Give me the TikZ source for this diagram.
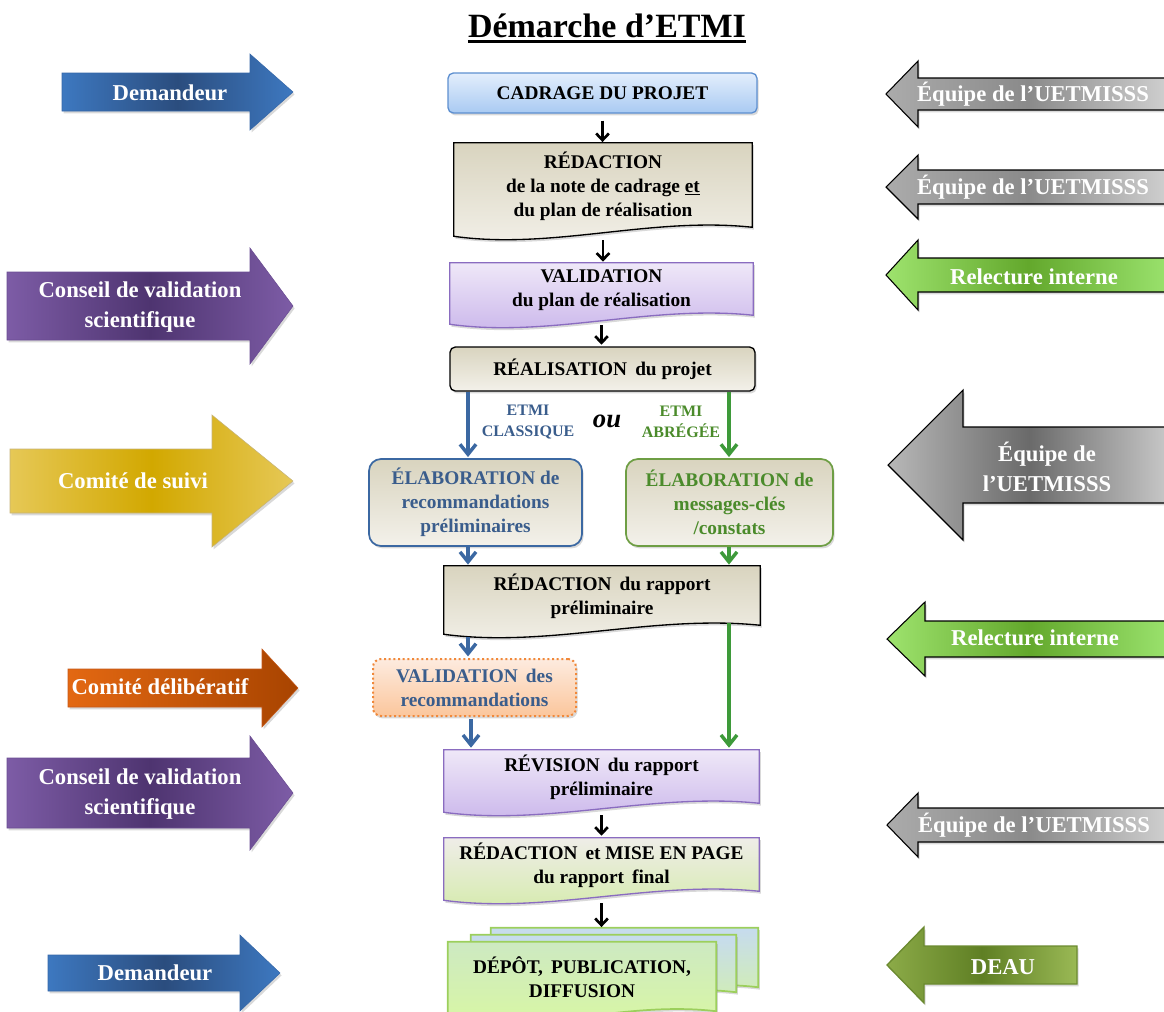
\documentclass[tikz,border=0pt]{standalone}
\usepackage{fontspec}
\setmainfont{Liberation Serif}
\usetikzlibrary{arrows.meta,shadows,calc,backgrounds}

\definecolor{cadT}{HTML}{E3EEFC}
\definecolor{cadB}{HTML}{A9CAF2}
\definecolor{cadD}{HTML}{5D8FD0}
\definecolor{begT}{HTML}{D9D4BF}
\definecolor{begB}{HTML}{F3F1EA}
\definecolor{purT}{HTML}{EFE8F8}
\definecolor{purB}{HTML}{C8B3EA}
\definecolor{purD}{HTML}{8A6CC0}
\definecolor{finT}{HTML}{EFEDE8}
\definecolor{finB}{HTML}{D4EBAA}
\definecolor{depT}{HTML}{C6DBEF}
\definecolor{depB}{HTML}{D4F2A6}
\definecolor{depF}{HTML}{CDE9C2}
\definecolor{depG}{HTML}{DAF8A0}
\definecolor{depD}{HTML}{9CCF5C}
\definecolor{bluA}{HTML}{3B68A2}
\definecolor{bluT}{HTML}{3A5D8C}
\definecolor{grnA}{HTML}{3E9A3A}
\definecolor{grnT}{HTML}{4B8B2B}
\definecolor{grnD}{HTML}{6E9E44}
\definecolor{orgD}{HTML}{F0883A}
\definecolor{orgT}{HTML}{FDEBDF}
\definecolor{orgB}{HTML}{FBC69C}
\definecolor{demE}{HTML}{3D78C0}
\definecolor{demM}{HTML}{2B4D7E}
\definecolor{demD}{HTML}{3567A8}
\definecolor{conE}{HTML}{7D5CA6}
\definecolor{conM}{HTML}{4E3470}
\definecolor{conD}{HTML}{6A4C92}
\definecolor{suiE}{HTML}{E6C856}
\definecolor{suiM}{HTML}{D2A800}
\definecolor{suiD}{HTML}{C5B37A}
\definecolor{delL}{HTML}{E36812}
\definecolor{delR}{HTML}{A84400}
\definecolor{delD}{HTML}{C4581A}
\definecolor{gryL}{HTML}{ABABAB}
\definecolor{gryM}{HTML}{8A8A8A}
\definecolor{gryR}{HTML}{D0D0D0}
\definecolor{bgyL}{HTML}{B8B8B8}
\definecolor{bgyM}{HTML}{6A6A6A}
\definecolor{bgyR}{HTML}{C9C9C9}
\definecolor{relL}{HTML}{9EE36E}
\definecolor{relM}{HTML}{63A82C}
\definecolor{relR}{HTML}{9BE36E}
\definecolor{deaL}{HTML}{8CAB48}
\definecolor{deaM}{HTML}{5F7F24}
\definecolor{deaR}{HTML}{9AB955}
\definecolor{deaD}{HTML}{6B8A30}

% big block arrow: tail x, head base x, tip x, centre y, body half height, head half height, style
\newcommand\bigarrow[7]{%
  \path[#7] (#1,#4-#5) -- (#2,#4-#5) -- (#2,#4-#6) -- (#3,#4) -- (#2,#4+#6) -- (#2,#4+#5) -- (#1,#4+#5) -- cycle;}
% document shape with a wavy bottom behind a named node
\newcommand\docpath[2]{%
  \path[#2] (#1.north west) -- (#1.north east) -- ($(#1.south east)+(0,-2)$)
    .. controls ($(#1.south west)!0.66!(#1.south east)+(0,-13)$) and ($(#1.south west)!0.33!(#1.south east)+(0,21)$) .. ($(#1.south west)+(0,7)$) -- cycle;}

\begin{document}
\begin{tikzpicture}[x=0.75pt,y=-0.75pt,
  tx/.style={font=\bfseries\fontsize{14.5}{18}\selectfont, align=center, inner sep=0pt},
  lab/.style={font=\bfseries\fontsize{17}{23}\selectfont, align=center, text=white, inner sep=0pt},
  sh/.style={drop shadow={shadow xshift=1.2pt, shadow yshift=-1.8pt, opacity=0.3}},
  blk/.style={-{Straight Barb[length=5pt,width=9.5pt]}, line width=2pt, draw=black},
  blu/.style={-{Straight Barb[length=7.5pt,width=12pt]}, line width=2.6pt, draw=bluA},
  grn/.style={-{Straight Barb[length=7.5pt,width=12pt]}, line width=2.6pt, draw=grnA},
  doc/.style={sh, line width=1pt},
]
\useasboundingbox (0,0) rectangle (1164,1011);

% ---------- title ----------
\node[font=\bfseries\fontsize{25.5}{30}\selectfont, inner sep=0pt, anchor=base] (title) at (607,37) {Démarche d’ETMI};
\draw[line width=2pt] ([yshift=-3.5pt]title.base west) -- ([yshift=-3.5pt]title.base east);

% ---------- central boxes ----------
\node[tx, minimum width=231.75pt, minimum height=30pt, rounded corners=4pt, draw=cadD, line width=1pt,
      top color=cadT, bottom color=cadB, sh] (cad) at (602.5,93) {CADRAGE DU PROJET};
\node[tx, minimum width=223.5pt, minimum height=64.5pt] (red1) at (603,186)
  {RÉDACTION\\de la note de cadrage \underline{et}\\du plan de réalisation};
\node[tx, minimum width=227.25pt, minimum height=40.5pt] (val1) at (601.5,290)
  {VALIDATION\\du plan de réalisation};
\node[tx, minimum width=228.75pt, minimum height=33pt, rounded corners=4pt, draw=black, line width=1pt,
      top color=begT, bottom color=begB, sh] (real) at (602.5,369) {RÉALISATION\, du projet};
\node[tx, text=bluT, minimum width=159.75pt, minimum height=65.25pt, rounded corners=9pt, draw=bluA, line width=1.3pt,
      top color=begT, bottom color=begB, sh] (elab1) at (475.5,502.5)
  {ÉLABORATION de\\recommandations\\préliminaires};
\node[tx, text=grnT, minimum width=155.25pt, minimum height=65.25pt, rounded corners=9pt, draw=grnD, line width=1.3pt,
      top color=begT, bottom color=begB, sh] (elab2) at (729.5,502.5)
  {ÉLABORATION de\\messages-clés\\/constats};
\node[tx, minimum width=237pt, minimum height=45.75pt] (rap) at (602,596.5)
  {RÉDACTION\, du rapport\\préliminaire};
\node[tx, text=bluT, minimum width=152.25pt, minimum height=42.75pt, rounded corners=6pt, draw=orgD, dotted,
      line width=1.5pt, top color=orgT, bottom color=orgB, sh] (val2) at (474.5,687.5)
  {VALIDATION\, des\\recommandations};
\node[tx, minimum width=236.25pt, minimum height=41.25pt] (rev) at (601.5,777.5)
  {RÉVISION\, du rapport\\préliminaire};
\node[tx, minimum width=236.25pt, minimum height=41.25pt] (fin) at (601.5,865.5)
  {RÉDACTION\, et MISE EN PAGE\\du rapport\, final};
\node[minimum width=200.25pt, minimum height=45.75pt, inner sep=0pt] (dep3) at (624.5,958.5) {};
\node[minimum width=198.75pt, minimum height=44.25pt, inner sep=0pt] (dep2) at (603.5,964.5) {};
\node[tx, minimum width=201pt, minimum height=53.25pt] (dep) at (582,977.5)
  {DÉPÔT,\, PUBLICATION,\\DIFFUSION};

% branch labels
\node[font=\bfseries\fontsize{12}{16}\selectfont, text=bluT, align=center] (lcl) at (528,422) {ETMI\\CLASSIQUE};
\node[font=\bfseries\itshape\fontsize{20}{22}\selectfont] (ou) at (607,421) {ou};
\node[font=\bfseries\fontsize{12}{16}\selectfont, text=grnT, align=center] (lab) at (681,422) {ETMI\\ABRÉGÉE};

% ---------- side arrow labels ----------
\node[lab] (l1) at (170,93) {Demandeur};
\node[lab] (l2) at (140,307) {Conseil de validation\\scientifique};
\node[lab] (l3) at (133,481) {Comité de suivi};
\node[lab] (l4) at (160,687) {Comité délibératif};
\node[lab] (l5) at (140,794) {Conseil de validation\\scientifique};
\node[lab] (l6) at (155,973) {Demandeur};

\node[lab] (r1) at (1033,94) {Équipe de l’UETMISSS};
\node[lab] (r2) at (1033,187) {Équipe de l’UETMISSS};
\node[lab] (r3) at (1034,277) {Relecture interne};
\node[lab, font=\bfseries\fontsize{17}{22.5}\selectfont] (r4) at (1047,467) {Équipe de\\l’UETMISSS};
\node[lab] (r5) at (1035,638) {Relecture interne};
\node[lab] (r6) at (1034,825) {Équipe de l’UETMISSS};
\node[lab] (r7) at (1003,967) {DEAU};

% ---------- shapes behind ----------
\begin{scope}[on background layer]
  \docpath{red1}{doc, draw=black, top color=begT, bottom color=begB}
  \docpath{val1}{doc, draw=purD, top color=purT, bottom color=purB}
  \docpath{rap}{doc, draw=black, top color=begT, bottom color=begB}
  \docpath{rev}{doc, draw=purD, top color=purT, bottom color=purB}
  \docpath{fin}{doc, draw=purD, top color=finT, bottom color=finB}
  \docpath{dep3}{doc, draw=depD, line width=1.3pt, top color=depT, bottom color=depB}
  \docpath{dep2}{doc, draw=depD, line width=1.3pt, top color=depT, bottom color=depB}
  \docpath{dep}{doc, draw=depD, line width=1.3pt, top color=depF, bottom color=depG}

  % left arrows (pointing right)
  \bigarrow{62}{250}{293}{92}{19}{38}{sh, draw=demD, left color=demE, right color=demE, middle color=demM}
  \bigarrow{7}{250}{293}{306}{34}{58}{sh, draw=conD, left color=conE, right color=conE, middle color=conM}
  \bigarrow{10}{212}{293}{481}{32}{66}{sh, draw=suiD, left color=suiE, right color=suiE, middle color=suiM}
  \bigarrow{68}{262}{298}{688}{19}{39}{sh, draw=delD, left color=delL, right color=delR}
  \bigarrow{7}{250}{293}{793}{35}{57}{sh, draw=conD, left color=conE, right color=conE, middle color=conM}
  \bigarrow{48}{240}{280}{973}{18}{38}{sh, draw=demD, left color=demE, right color=demE, middle color=demM}

  % right arrows (pointing left)
  \bigarrow{1170}{918}{886}{94}{16}{33}{sh, draw=black, line width=0.8pt, left color=gryL, right color=gryR, middle color=gryM}
  \bigarrow{1170}{918}{886}{187}{17}{32}{sh, draw=black, line width=0.8pt, left color=gryL, right color=gryR, middle color=gryM}
  \bigarrow{1170}{918}{886}{275}{17}{35}{sh, draw=black, line width=0.8pt, left color=relL, right color=relR, middle color=relM}
  \bigarrow{1170}{963}{888}{465}{38}{75}{sh, draw=black, line width=0.8pt, left color=bgyL, right color=bgyR, middle color=bgyM}
  \bigarrow{1170}{925}{887}{639}{18}{37}{sh, draw=black, line width=0.8pt, left color=relL, right color=relR, middle color=relM}
  \bigarrow{1170}{918}{887}{825}{17}{32}{sh, draw=black, line width=0.8pt, left color=gryL, right color=gryR, middle color=gryM}
  \bigarrow{1077}{924}{887}{965}{19}{38}{sh, draw=deaD, line width=1pt, left color=deaL, right color=deaR, middle color=deaM}
\end{scope}

% ---------- connectors ----------
\coordinate (bx) at (468,0);
\coordinate (bx2) at (471,0);
\coordinate (gx) at (729,0);
\draw[blk, shorten <=5.25pt, shorten >=0.5pt] (cad.south) -- (cad.south |- red1.north);
\draw[blk, shorten <=8.25pt, shorten >=0.8pt] (red1.south) -- (red1.south |- val1.north);
\draw[blk, shorten <=6pt, shorten >=1.2pt] (val1.south) -- (val1.south |- real.north);
\draw[blu, shorten >=0.8pt] (real.south -| bx) -- (elab1.north -| bx);
\draw[grn, shorten >=0.8pt] (real.south -| gx) -- (elab2.north -| gx);
\draw[blu, shorten >=0.8pt] (elab1.south -| bx) -- (rap.north -| bx);
\draw[grn, shorten >=0.8pt] (elab2.south -| gx) -- (rap.north -| gx);
\draw[blu, shorten <=7.5pt, shorten >=1.2pt] (rap.south -| bx) -- (val2.north -| bx);
\draw[grn, shorten <=-3pt, shorten >=1.5pt] (rap.south -| gx) -- (rev.north -| gx);
\draw[blu, shorten <=1.5pt, shorten >=1.5pt] (val2.south -| bx2) -- (rev.north -| bx2);
\draw[blk, shorten <=7.5pt, shorten >=1.5pt] (rev.south) -- (rev.south |- fin.north);
\draw[blk, shorten <=7.5pt, shorten >=0.5pt] (fin.south) -- (fin.south |- dep3.north);
\end{tikzpicture}
\end{document}
